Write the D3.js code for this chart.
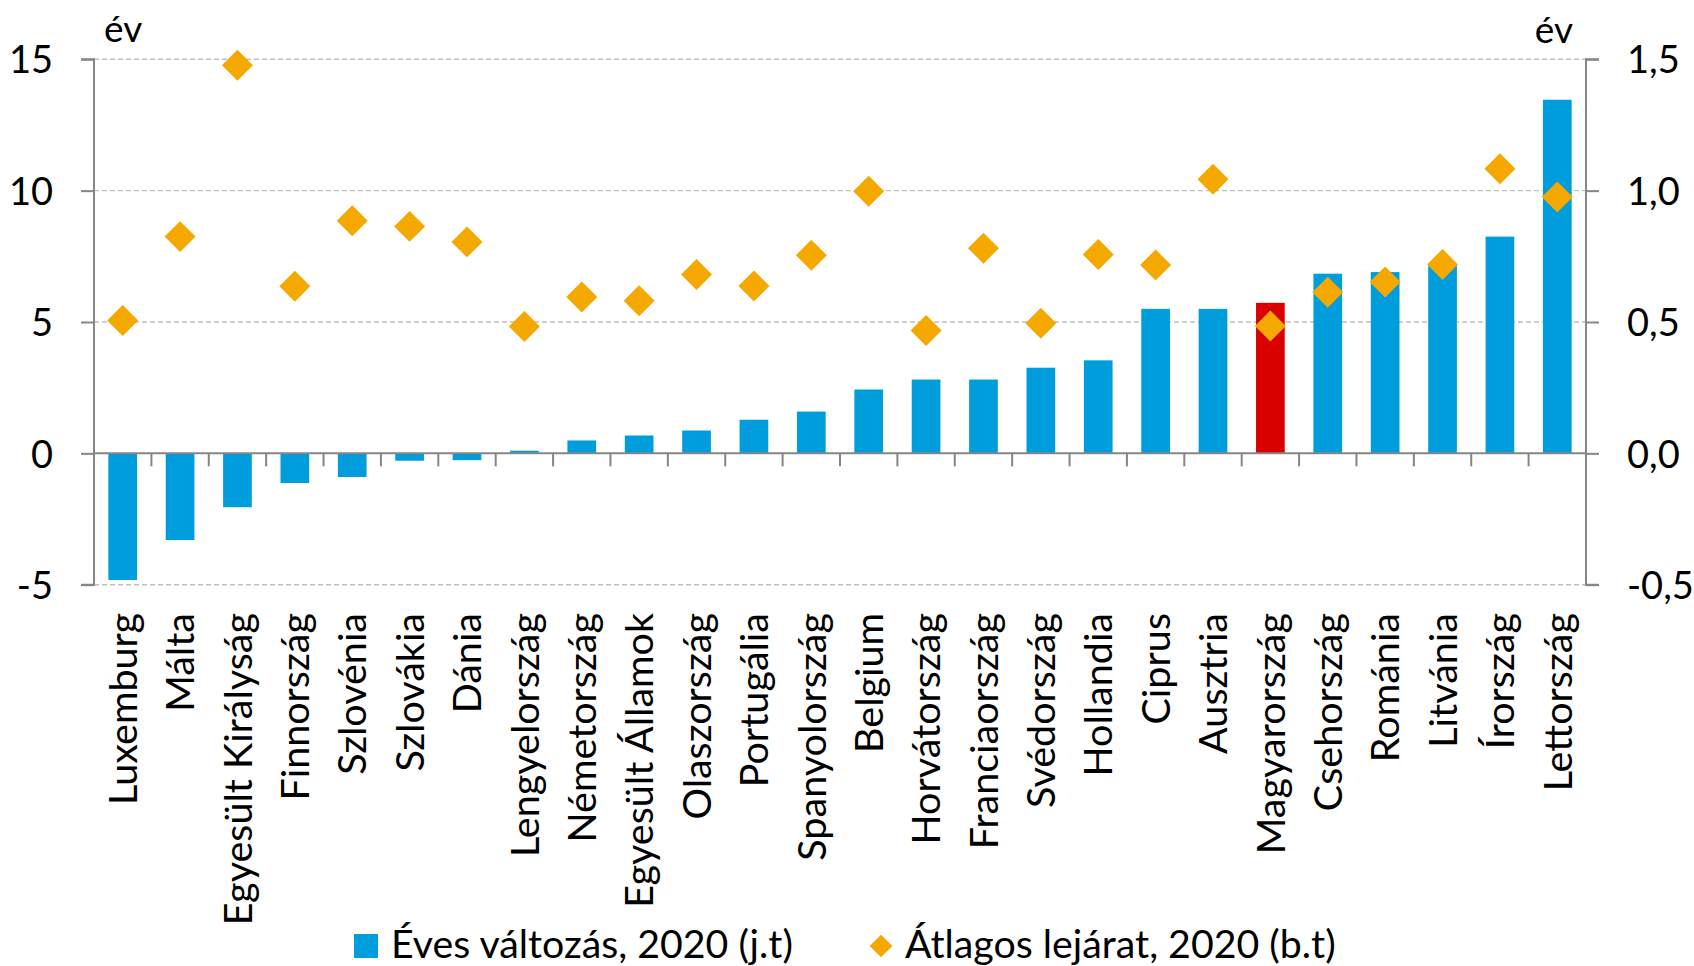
<!DOCTYPE html>
<html>
<head>
<meta charset="utf-8">
<script src="https://cdn.jsdelivr.net/npm/d3@7"></script>
<style>
  html, body { margin: 0; padding: 0; background: #fff; }
  svg { display: block; }
  text { font-family: Lato, "Open Sans", sans-serif; fill: #000; }
</style>
</head>
<body>
<svg id="chart" width="1694" height="966"></svg>
<script>
const categories = ["Luxemburg","Málta","Egyesült Királyság","Finnország","Szlovénia","Szlovákia","Dánia","Lengyelország","Németország","Egyesült Államok","Olaszország","Portugália","Spanyolország","Belgium","Horvátország","Franciaország","Svédország","Hollandia","Ciprus","Ausztria","Magyarország","Csehország","Románia","Litvánia","Írország","Lettország"];
const annualChange = [-4.82,-3.30,-2.05,-1.13,-0.90,-0.28,-0.26,0.10,0.49,0.68,0.87,1.28,1.59,2.43,2.81,2.81,3.26,3.54,5.50,5.50,5.73,6.84,6.90,7.20,8.25,13.46];
const avgMaturity = [0.506,0.825,1.477,0.636,0.885,0.864,0.805,0.483,0.595,0.581,0.681,0.637,0.754,0.998,0.468,0.781,0.495,0.757,0.717,1.043,0.485,0.613,0.652,0.719,1.083,0.976];
const highlighted = ["Magyarország"];
const leftTicks = [-5,0,5,10,15];
const rightTicks = [-0.5,0,0.5,1.0,1.5];
const unitLabel = "év";
const legendLabels = ["Éves változás, 2020 (j.t)","Átlagos lejárat, 2020 (b.t)"];

const colBar = "#009ddc", colHi = "#d90000", colDot = "#f5a800", colAxis = "#868686", colGrid = "#c0c0c0";
const svg = d3.select("#chart");
const L = 94, R = 1586, T = 59.3, B = 584.7;

const x = d3.scaleBand().domain(categories).range([L, R]).paddingInner(0.5).paddingOuter(0.25);
const yL = d3.scaleLinear().domain([-5, 15]).range([B, T]);
const yR = d3.scaleLinear().domain([-0.5, 1.5]).range([B, T]);
const fmtL = v => String(v);
const fmtR = v => v.toFixed(1).replace(".", ",");

// gridlines (dashed), except zero
svg.append("g").selectAll("line").data(leftTicks.filter(d => d !== 0)).join("line")
  .attr("x1", L).attr("x2", R).attr("y1", d => yL(d)).attr("y2", d => yL(d))
  .attr("stroke", colGrid).attr("stroke-width", 1.4).attr("stroke-dasharray", "5,3");

// bars
svg.append("g").selectAll("rect").data(categories).join("rect")
  .attr("x", d => x(d))
  .attr("width", x.bandwidth())
  .attr("y", (d, i) => yL(Math.max(0, annualChange[i])))
  .attr("height", (d, i) => Math.abs(yL(annualChange[i]) - yL(0)))
  .attr("fill", d => highlighted.includes(d) ? colHi : colBar);

// left axis
const axL = svg.append("g").attr("transform", `translate(${L},0)`)
  .call(d3.axisLeft(yL).tickValues(leftTicks).tickSize(13).tickFormat(fmtL));
axL.select(".domain").attr("stroke", colAxis).attr("stroke-width", 2).attr("d", `M-13,${T}H0V${B}H-13`);
axL.selectAll(".tick line").attr("stroke", colAxis).attr("stroke-width", 2);
axL.selectAll(".tick text").attr("x", -41).attr("dy", "0.36em")
  .style("font-family", "Lato").style("font-size", "38px").attr("fill", "#000");

// right axis
const axR = svg.append("g").attr("transform", `translate(${R},0)`)
  .call(d3.axisRight(yR).tickValues(rightTicks).tickSize(13).tickFormat(fmtR));
axR.select(".domain").attr("stroke", colAxis).attr("stroke-width", 2).attr("d", `M13,${T}H0V${B}H13`);
axR.selectAll(".tick line").attr("stroke", colAxis).attr("stroke-width", 2);
axR.selectAll(".tick text").attr("x", 41).attr("dy", "0.36em")
  .style("font-family", "Lato").style("font-size", "38px").attr("fill", "#000");

// zero line with category ticks
const y0 = yL(0);
const axX = svg.append("g").attr("transform", `translate(0,${y0})`)
  .call(d3.axisBottom(x).tickSize(0).tickFormat(""));
axX.select(".domain").attr("stroke", colAxis).attr("stroke-width", 2).attr("d", `M${L},0H${R}`);
axX.selectAll(".tick").remove();
const step = x.step();
const boundaries = d3.range(1, categories.length).map(i => x(categories[i]) - (step - x.bandwidth()) / 2);
axX.selectAll("line.sep").data(boundaries).join("line").attr("class", "sep")
  .attr("x1", d => d).attr("x2", d => d).attr("y1", 0).attr("y2", 13)
  .attr("stroke", colAxis).attr("stroke-width", 2);

// category labels
svg.append("g").selectAll("text").data(categories).join("text")
  .attr("transform", d => `translate(${x(d) + x.bandwidth() / 2},613) rotate(-90)`)
  .attr("text-anchor", "end").attr("dy", "0.36em")
  .style("font-size", "39.5px").text(d => d);

// diamonds
const diamond = d3.symbol(d3.symbolSquare, 480);
svg.append("g").selectAll("path").data(categories).join("path")
  .attr("d", diamond)
  .attr("transform", (d, i) => `translate(${x(d) + x.bandwidth() / 2},${yR(avgMaturity[i])}) rotate(45)`)
  .attr("fill", colDot);

// unit labels
svg.append("text").attr("x", 104).attr("y", 42).style("font-size", "37px").text(unitLabel);
svg.append("text").attr("x", 1573).attr("y", 43).attr("text-anchor", "end").style("font-size", "37px").text(unitLabel);

// legend
const lg = svg.append("g");
lg.append("rect").attr("x", 354).attr("y", 934).attr("width", 24).attr("height", 24).attr("fill", colBar);
lg.append("text").attr("x", 391).attr("y", 958).style("font-size", "39.3px").text(legendLabels[0]);
lg.append("path").attr("d", d3.symbol(d3.symbolSquare, 258)).attr("transform", "translate(881,946) rotate(45)").attr("fill", colDot);
lg.append("text").attr("x", 905).attr("y", 958).style("font-size", "39.3px").text(legendLabels[1]);
</script>
</body>
</html>
